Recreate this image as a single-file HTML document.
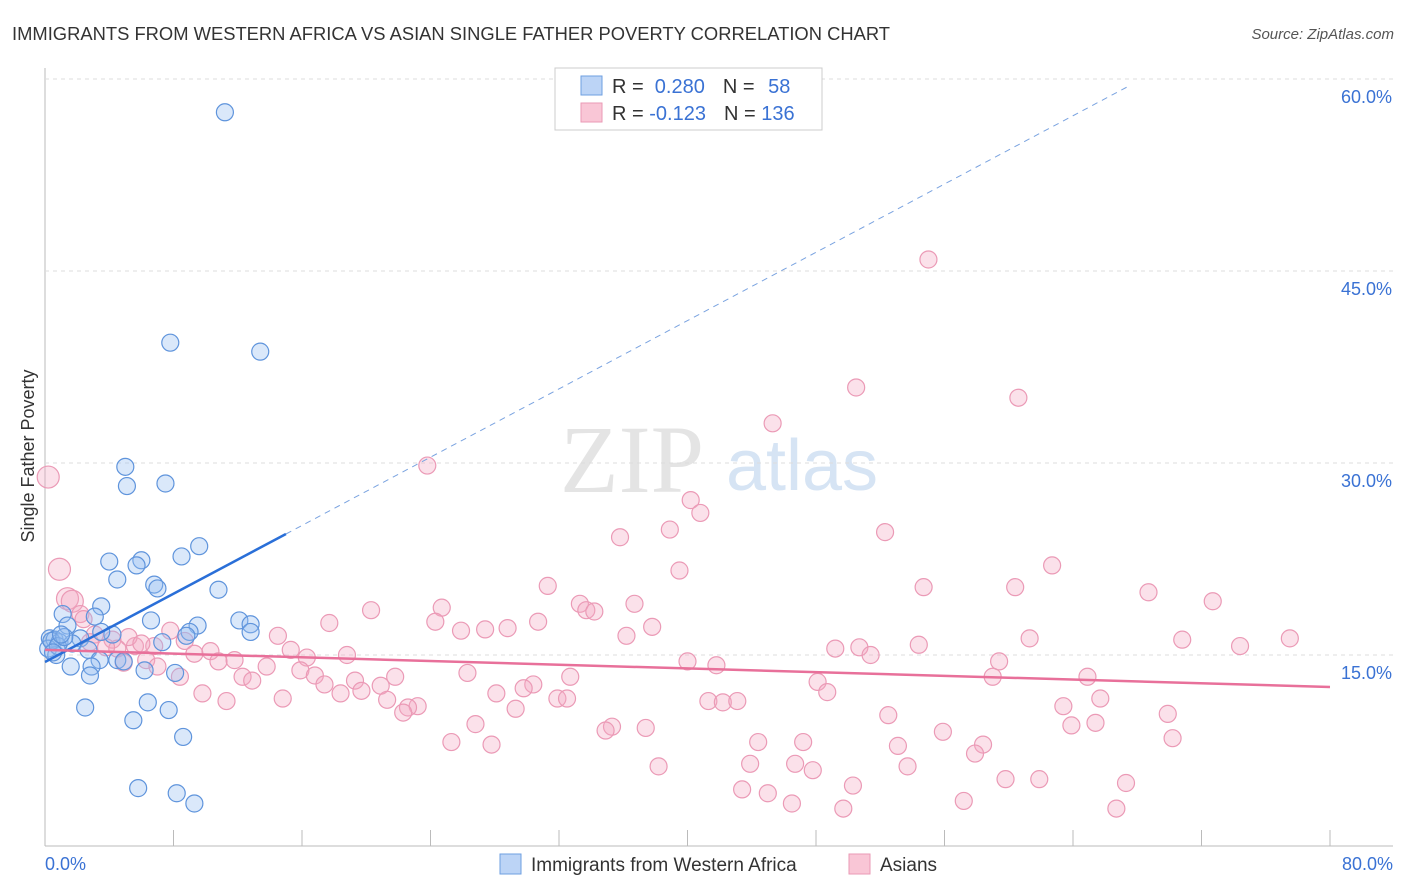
<!DOCTYPE html>
<html><head><meta charset="utf-8"><style>
body{margin:0;background:#fff;font-family:"Liberation Sans",sans-serif;}
svg{display:block}
</style></head><body>
<svg id="chart" width="1406" height="892">
<text x="12" y="40" font-size="18" fill="#333" textLength="878" lengthAdjust="spacingAndGlyphs">IMMIGRANTS FROM WESTERN AFRICA VS ASIAN SINGLE FATHER POVERTY CORRELATION CHART</text>
<text x="1394" y="39" font-size="15" fill="#555" font-style="italic" text-anchor="end">Source: ZipAtlas.com</text>
<text x="0" y="0" transform="translate(34,456) rotate(-90)" font-size="18" fill="#333" text-anchor="middle">Single Father Poverty</text>
<g>
<text x="632" y="492" font-size="96" font-family="Liberation Serif,serif" fill="#e4e4e4" text-anchor="middle">ZIP</text>
<text x="802" y="490" font-size="72" fill="#d6e4f4" text-anchor="middle">atlas</text>
</g>
<g id="grid"></g><g id="pts"></g><g id="lines"></g>
<g>
<rect x="555" y="68" width="267" height="62" fill="#fff" stroke="#ccc"/>
<rect x="581" y="76" width="21" height="19" fill="#bcd4f6" stroke="#6e9fe0"/>
<rect x="581" y="103" width="21" height="19" fill="#f9c6d6" stroke="#ea9ab5"/>
<text x="612" y="93" font-size="20" fill="#333">R = <tspan fill="#3a72d4">&#160;0.280</tspan><tspan dx="18">N = </tspan><tspan fill="#3a72d4" dx="8">58</tspan></text>
<text x="612" y="120" font-size="20" fill="#333">R = <tspan fill="#3a72d4">-0.123</tspan><tspan dx="18">N = </tspan><tspan fill="#3a72d4">136</tspan></text>
</g>
<g>
<rect x="500" y="854" width="21" height="20" fill="#bcd4f6" stroke="#6e9fe0"/>
<text x="531" y="871" font-size="19" fill="#333">Immigrants from Western Africa</text>
<rect x="849" y="854" width="21" height="20" fill="#f9c6d6" stroke="#ea9ab5"/>
<text x="880" y="871" font-size="19" fill="#333">Asians</text>
</g>
</svg>
<script>
const yTicks=[15,30,45,60];
const xTickCount=10;
const blueX=[11.2,7.8,13.4,5.0,5.1,7.5,4.0,6.0,9.6,8.5,4.5,5.7,6.8,7.0,10.8,3.5,1.1,3.1,1.4,6.6,12.1,12.8,9.5,12.8,9.0,8.8,4.2,3.5,2.2,0.3,0.6,0.9,1.7,7.3,0.2,2.7,0.7,3.4,4.5,4.9,1.6,2.9,6.2,8.1,2.8,6.4,7.7,2.5,5.5,8.6,5.8,8.2,9.3,0.4,0.8,1.2,0.5,1.0];
const blueY=[57.4,39.4,38.7,29.7,28.2,28.4,22.3,22.4,23.5,22.7,20.9,22.0,20.5,20.2,20.1,18.8,18.2,18.0,17.3,17.7,17.7,17.4,17.3,16.8,16.8,16.5,16.6,16.8,16.3,16.3,16.2,16.0,15.9,16.0,15.5,15.4,15.0,14.6,14.6,14.5,14.1,14.1,13.8,13.6,13.4,11.3,10.7,10.9,9.9,8.6,4.6,4.2,3.4,16.1,15.7,16.4,15.2,16.6];
const pinkX=[55.0,50.5,60.6,45.3,23.8,0.2,40.2,40.8,38.9,52.3,35.8,62.7,0.9,39.5,31.3,54.7,60.4,68.7,1.4,33.3,36.7,72.7,1.7,24.7,20.3,33.7,34.2,2.2,24.3,17.7,30.7,28.8,27.4,25.9,37.8,36.2,61.3,70.8,77.5,74.4,14.5,7.8,3.1,4.2,5.6,6.8,8.7,4.5,49.2,50.7,54.4,51.4,15.3,10.3,9.3,18.8,16.3,11.8,10.8,6.3,7.0,40.0,41.8,59.4,13.8,15.9,26.3,8.4,12.3,12.9,16.8,21.8,32.7,64.9,59.0,17.4,19.3,20.9,30.4,29.8,48.1,48.7,18.4,19.7,28.1,9.8,14.8,11.3,21.3,31.9,32.5,41.3,42.2,43.1,65.7,23.2,22.6,29.3,22.3,63.4,52.5,69.9,26.8,35.3,34.9,37.4,63.9,65.4,55.9,70.2,25.3,27.8,44.4,47.2,53.1,58.4,57.9,43.9,46.7,47.8,38.2,53.7,59.8,61.9,67.3,50.3,43.4,45.0,57.2,46.5,49.7,66.7,2.8,3.8,5.2,6.0,2.4,4.9];
const pinkY=[45.9,35.9,35.1,33.1,29.8,28.9,27.1,26.1,24.8,24.6,24.2,22.0,21.7,21.6,20.4,20.3,20.3,19.9,19.4,19.0,19.0,19.2,19.2,18.7,18.5,18.5,18.4,18.2,17.6,17.5,17.6,17.1,17.0,16.9,17.2,16.5,16.3,16.2,16.3,15.7,16.5,16.9,16.6,16.2,15.7,15.7,16.1,15.5,15.5,15.6,15.8,15.0,15.4,15.3,15.1,15.0,14.8,14.6,14.5,14.6,14.1,14.5,14.2,14.5,14.1,13.8,13.6,13.3,13.3,13.0,13.4,13.3,13.3,13.3,13.3,12.7,13.0,12.6,12.7,12.4,12.9,12.1,12.0,12.2,12.0,12.0,11.6,11.4,11.5,11.6,11.6,11.4,11.3,11.4,11.6,11.0,10.9,10.8,10.5,11.0,10.3,10.4,9.6,9.4,9.1,9.3,9.5,9.7,9.0,8.5,8.2,8.0,8.2,8.2,7.9,8.0,7.3,6.5,6.5,6.0,6.3,6.3,5.3,5.3,5.0,4.8,4.5,4.2,3.6,3.4,3.0,3.0,16.0,15.6,16.4,15.9,17.8,14.4];
const blueLine=[0,14.45,80,67.8];const pinkLine=[0,15.4,80,12.5];
const X=v=>45+v/80*1285, Y=v=>847-v*12.8;
const NS='http://www.w3.org/2000/svg';
function mk(p,t,a){const e=document.createElementNS(NS,t);for(const k in a)e.setAttribute(k,a[k]);p.appendChild(e);return e;}
const g=document.getElementById('grid');
let ax=mk(g,'line',{x1:45,y1:68,x2:45,y2:846,stroke:'#bbb'});

let bx=mk(g,'line',{x1:45,y1:846,x2:1393,y2:846,stroke:'#bbb'});

yTicks.forEach(t=>{let l=mk(g,'line',{x1:45,y1:Y(t),x2:1393,y2:Y(t),stroke:'#ddd','stroke-dasharray':'4,4'});

let tx=mk(g,'text',{x:1392,y:Y(t)+24,'font-size':18,fill:'#3a72d4','text-anchor':'end'});tx.textContent=t.toFixed(1)+'%';
});
for(let i=0;i<=xTickCount;i++){let l=mk(g,'line',{x1:X(i*8),y1:830,x2:X(i*8),y2:846,stroke:'#bbb'});
}
let x0=mk(g,'text',{x:45,y:870,'font-size':18,fill:'#3a72d4'});x0.textContent='0.0%';

let x1=mk(g,'text',{x:1393,y:870,'font-size':18,fill:'#3a72d4','text-anchor':'end'});x1.textContent='80.0%';

const p=document.getElementById('pts');
pinkX.forEach((v,i)=>{let c=mk(p,'circle',{cx:X(v),cy:Y(pinkY[i]),r:(v<2&&pinkY[i]>18)?11:8.5,fill:'rgba(244,170,196,0.35)',stroke:'#eb9ab6','stroke-width':1.2});
});
blueX.forEach((v,i)=>{let c=mk(p,'circle',{cx:X(v),cy:Y(blueY[i]),r:8.5,fill:'rgba(150,190,240,0.35)',stroke:'#5f94dc','stroke-width':1.2});
});
const L=document.getElementById('lines');
const by=x=>blueLine[1]+(blueLine[3]-blueLine[1])*x/80;
let bs=mk(L,'line',{x1:X(0),y1:Y(by(0)),x2:X(15),y2:Y(by(15)),stroke:'#2a6fd8','stroke-width':2.5});

let bd=mk(L,'line',{x1:X(15),y1:Y(by(15)),x2:X(67.5),y2:Y(by(67.5)),stroke:'#7aa3e0','stroke-width':1,'stroke-dasharray':'6,5'});

let pl=mk(L,'line',{x1:X(pinkLine[0]),y1:Y(pinkLine[1]),x2:X(pinkLine[2]),y2:Y(pinkLine[3]),stroke:'#e8709a','stroke-width':2.5});

</script>
</body></html>
